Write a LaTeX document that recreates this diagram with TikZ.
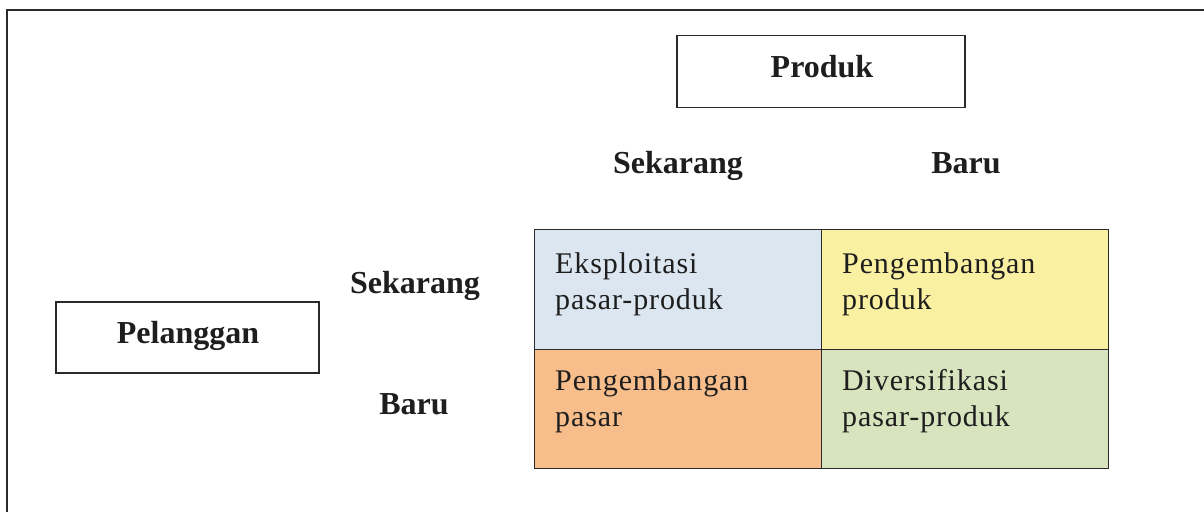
\documentclass[tikz,border=0pt]{standalone}
\usepackage{fontspec}
\setmainfont{Liberation Serif}
\newfontfamily\cellfont[LetterSpace=3]{Liberation Serif}
\definecolor{inkline}{HTML}{2A2A2A}
\definecolor{inktext}{HTML}{1E1E1E}
\definecolor{cellblue}{HTML}{DCE6F0}
\definecolor{cellyellow}{HTML}{FAF0A2}
\definecolor{cellorange}{HTML}{F7BE8C}
\definecolor{cellgreen}{HTML}{D8E4BD}
\begin{document}
\begin{tikzpicture}[x=1pt,y=-1pt,
  frame/.style={draw=inkline,line width=1.8pt},
  headbox/.style={draw=inkline,line width=1.4pt,fill=white,inner sep=0pt},
  cellbox/.style={draw=inkline,line width=1.4pt,inner sep=0pt,
    minimum width=287pt,minimum height=119.5pt},
  headlabel/.style={inner sep=0pt,anchor=base,text=inktext,
    font=\fontsize{32}{38}\selectfont\bfseries},
  celltext/.style={inner sep=0pt,anchor=north west,align=left,text=inktext,
    font=\cellfont\fontsize{30}{36}\selectfont}]
\useasboundingbox (0,0) rectangle (1204,512);
\fill[white] (0,0) rectangle (1204,512);

% open page frame (top and left edges)
\coordinate (frameTR) at (1204,10);
\coordinate (frameTL) at (7,10);
\coordinate (frameBL) at (7,512);
\draw[frame] (frameTR) -- (frameTL) -- (frameBL);

% axis title boxes
\node[headbox,minimum width=288pt,minimum height=72pt] (produkbox) at (821,71.5) {};
\node[headlabel] (produk) at (822,77) {Produk};
\node[headbox,minimum width=263pt,minimum height=71pt] (pelbox) at (187.5,337.5) {};
\node[headlabel] (pelanggan) at (188,343) {Pelanggan};

% column and row headings
\node[headlabel] (colnow) at (678,173) {Sekarang};
\node[headlabel] (colnew) at (966,173) {Baru};
\node[headlabel] (rownow) at (415,293) {Sekarang};
\node[headlabel] (rownew) at (414,414) {Baru};

% the four strategy cells
\node[cellbox,fill=cellblue,anchor=north west] (c11) at (534,229) {};
\node[cellbox,fill=cellyellow,anchor=north west] (c12) at (821,229) {};
\node[cellbox,fill=cellorange,anchor=north west] (c21) at (534,348.5) {};
\node[cellbox,fill=cellgreen,anchor=north west] (c22) at (821,348.5) {};

\node[celltext] (t11) at ([xshift=21pt,yshift=-23pt]c11.north west) {Eksploitasi\\pasar-produk};
\node[celltext] (t12) at ([xshift=21pt,yshift=-23pt]c12.north west) {Pengembangan\\produk};
\node[celltext] (t21) at ([xshift=21pt,yshift=-21pt]c21.north west) {Pengembangan\\pasar};
\node[celltext] (t22) at ([xshift=21pt,yshift=-21pt]c22.north west) {Diversifikasi\\pasar-produk};
\end{tikzpicture}
\end{document}
